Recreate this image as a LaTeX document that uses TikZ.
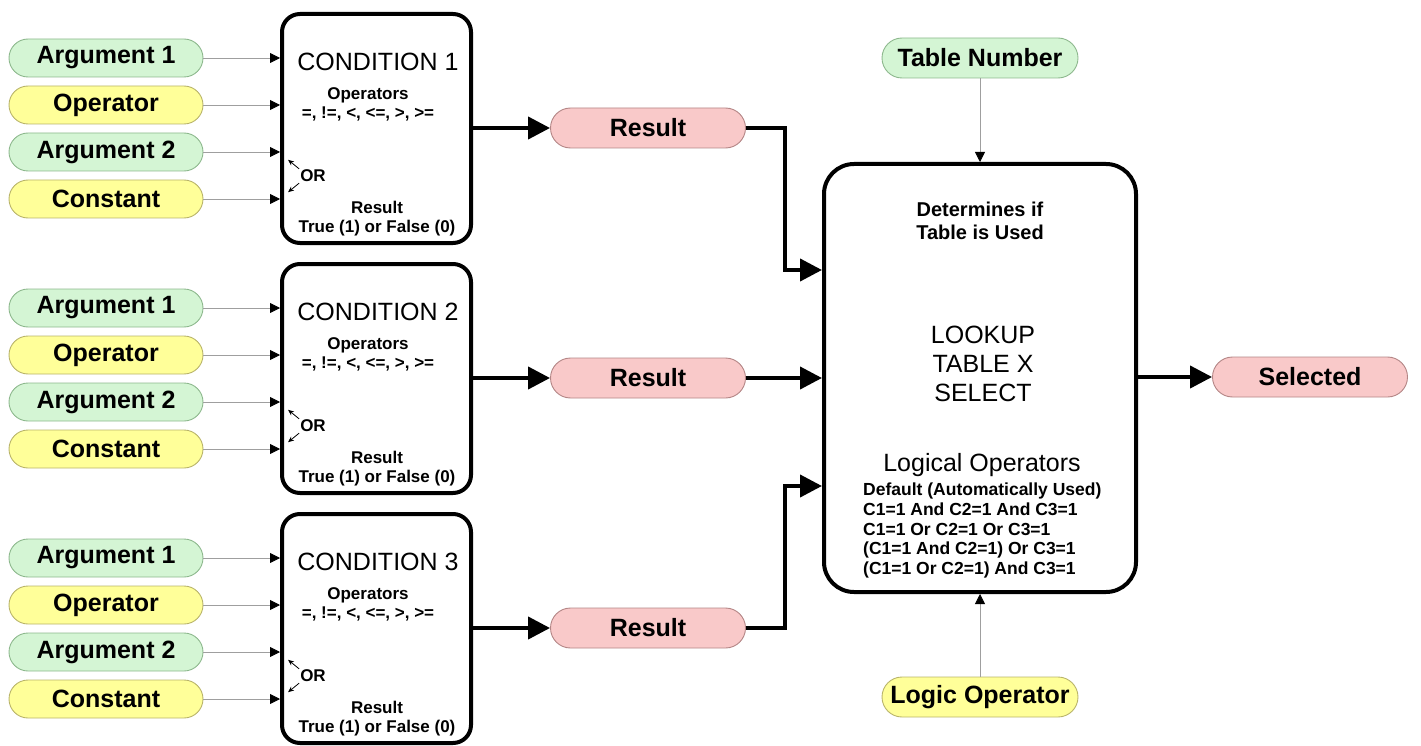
\documentclass[tikz,border=0pt]{standalone}
\usepackage{fontspec}
\setmainfont{Liberation Sans}
\usepackage{xcolor}
\definecolor{argfill}{HTML}{D4F5D4}
\definecolor{argline}{HTML}{8DB88D}
\definecolor{opfill}{HTML}{FFFF99}
\definecolor{opline}{HTML}{B9B46A}
\definecolor{resfill}{HTML}{F9C9C9}
\definecolor{resline}{HTML}{B38585}
\usetikzlibrary{arrows.meta}

\begin{document}
\begin{tikzpicture}[x=1pt, y=-1pt,
        pill/.style={draw, line width=0.9pt, rounded corners=19pt, minimum width=194pt, minimum height=38pt, inner sep=0pt, font=\fontsize{25}{30}\selectfont\bfseries},
        argpill/.style={pill, fill=argfill, draw=argline},
        oppill/.style={pill, fill=opfill, draw=opline},
        respill/.style={pill, fill=resfill, draw=resline, minimum width=195pt, minimum height=40pt, rounded corners=20pt},
        condbox/.style={draw, line width=4pt, rounded corners=18pt, minimum width=189pt, minimum height=229pt},
        lookbox/.style={draw, line width=4pt, rounded corners=30pt, minimum width=312pt, minimum height=428pt},
        condtitle/.style={inner sep=1pt, font=\fontsize{25}{30}\selectfont},
        condsmall/.style={inner sep=1pt, align=center, font=\fontsize{17}{19}\selectfont\bfseries},
        feed/.style={draw=gray!75, line width=0.8pt, -{Triangle[length=10pt, width=10pt, color=black]}},
        orarrow/.style={line width=0.8pt, -{Stealth[length=6pt, width=5pt]}},
        flow/.style={line width=4pt, -{Triangle[length=22pt, width=22pt]}}
    ]
            \useasboundingbox (0,0) rectangle (1421,746);

            % condition 1
            \node[condbox] (cond1) at (376.5,128.5) {};
            \node[argpill] (arg11) at (106,58) {Argument 1};
            \node[oppill] (op1) at (106,105) {Operator};
            \node[argpill] (arg21) at (106,152) {Argument 2};
            \node[oppill] (const1) at (106,199) {Constant};
            \node[condtitle] (cond1title) at (378,62) {CONDITION 1};
            \node[condsmall] (cond1ops) at (368,104) {Operators\\=, !=, <, <=, >, >=};
            \node[condsmall] (cond1or) at (313,176) {OR};
            \node[condsmall] (cond1res) at (377,219) {Result\\True (1) or False (0)};

            \draw[feed] (arg11.east) -- (arg11.east -| cond1.west);
            \draw[feed] (op1.east) -- (op1.east -| cond1.west);
            \draw[feed] (arg21.east) -- (arg21.east -| cond1.west);
            \draw[feed] (const1.east) -- (const1.east -| cond1.west);
            \draw[orarrow] (cond1or.north west) -- ++(-11,-9);
            \draw[orarrow] (cond1or.south west) -- ++(-11,9);

            % condition 2
            \node[condbox] (cond2) at (376.5,378.5) {};
            \node[argpill] (arg12) at (106,308) {Argument 1};
            \node[oppill] (op2) at (106,355) {Operator};
            \node[argpill] (arg22) at (106,402) {Argument 2};
            \node[oppill] (const2) at (106,449) {Constant};
            \node[condtitle] (cond2title) at (378,312) {CONDITION 2};
            \node[condsmall] (cond2ops) at (368,354) {Operators\\=, !=, <, <=, >, >=};
            \node[condsmall] (cond2or) at (313,426) {OR};
            \node[condsmall] (cond2res) at (377,469) {Result\\True (1) or False (0)};

            \draw[feed] (arg12.east) -- (arg12.east -| cond2.west);
            \draw[feed] (op2.east) -- (op2.east -| cond2.west);
            \draw[feed] (arg22.east) -- (arg22.east -| cond2.west);
            \draw[feed] (const2.east) -- (const2.east -| cond2.west);
            \draw[orarrow] (cond2or.north west) -- ++(-11,-9);
            \draw[orarrow] (cond2or.south west) -- ++(-11,9);

            % condition 3
            \node[condbox] (cond3) at (376.5,628.5) {};
            \node[argpill] (arg13) at (106,558) {Argument 1};
            \node[oppill] (op3) at (106,605) {Operator};
            \node[argpill] (arg23) at (106,652) {Argument 2};
            \node[oppill] (const3) at (106,699) {Constant};
            \node[condtitle] (cond3title) at (378,562) {CONDITION 3};
            \node[condsmall] (cond3ops) at (368,604) {Operators\\=, !=, <, <=, >, >=};
            \node[condsmall] (cond3or) at (313,676) {OR};
            \node[condsmall] (cond3res) at (377,719) {Result\\True (1) or False (0)};

            \draw[feed] (arg13.east) -- (arg13.east -| cond3.west);
            \draw[feed] (op3.east) -- (op3.east -| cond3.west);
            \draw[feed] (arg23.east) -- (arg23.east -| cond3.west);
            \draw[feed] (const3.east) -- (const3.east -| cond3.west);
            \draw[orarrow] (cond3or.north west) -- ++(-11,-9);
            \draw[orarrow] (cond3or.south west) -- ++(-11,9);

            % results
            \node[respill] (res1) at (648,128) {Result};
            \node[respill] (res2) at (648,378) {Result};
            \node[respill] (res3) at (648,628) {Result};
            \draw[flow] (cond1.east |- res1) -- (res1.west);
            \draw[flow] (cond2.east |- res2) -- (res2.west);
            \draw[flow] (cond3.east |- res3) -- (res3.west);

            % lookup table select
            \node[lookbox] (lookup) at (980,378) {};
            \node[condsmall, font=\fontsize{20}{23}\selectfont\bfseries] (lookdet) at (980,221) {Determines if\\Table is Used};
            \node[condtitle, align=center, font=\fontsize{25}{29}\selectfont] (looktitle) at (983,364) {LOOKUP\\TABLE X\\SELECT};
            \node[condtitle] (looklogic) at (982,465) {Logical Operators};
            \node[condsmall, align=left, anchor=north west, font=\fontsize{17.5}{19.7}\selectfont\bfseries] (lookmodes) at (862,482) {Default (Automatically Used)\\C1=1 And C2=1 And C3=1\\C1=1 Or C2=1 Or C3=1\\(C1=1 And C2=1) Or C3=1\\(C1=1 Or C2=1) And C3=1};

            \draw[flow] (res1.east) -- (785,128) |- (lookup.west |- 0,270);
            \draw[flow] (res2.east) -- (lookup.west |- res2);
            \draw[flow] (res3.east) -- (785,628) |- (lookup.west |- 0,486);

            \node[argpill, minimum width=196pt, minimum height=40pt, rounded corners=20pt] (tabnum) at (980,58) {Table Number};
            \node[oppill, minimum width=196pt, minimum height=40pt, rounded corners=20pt] (logop) at (980,697) {Logic Operator};
            \node[respill] (sel) at (1310,377) {Selected};

            \draw[feed] (tabnum.south) -- (lookup.north);
            \draw[feed] (logop.north) -- (lookup.south);
            \draw[flow] (lookup.east |- sel) -- (sel.west);
\end{tikzpicture}
\end{document}
